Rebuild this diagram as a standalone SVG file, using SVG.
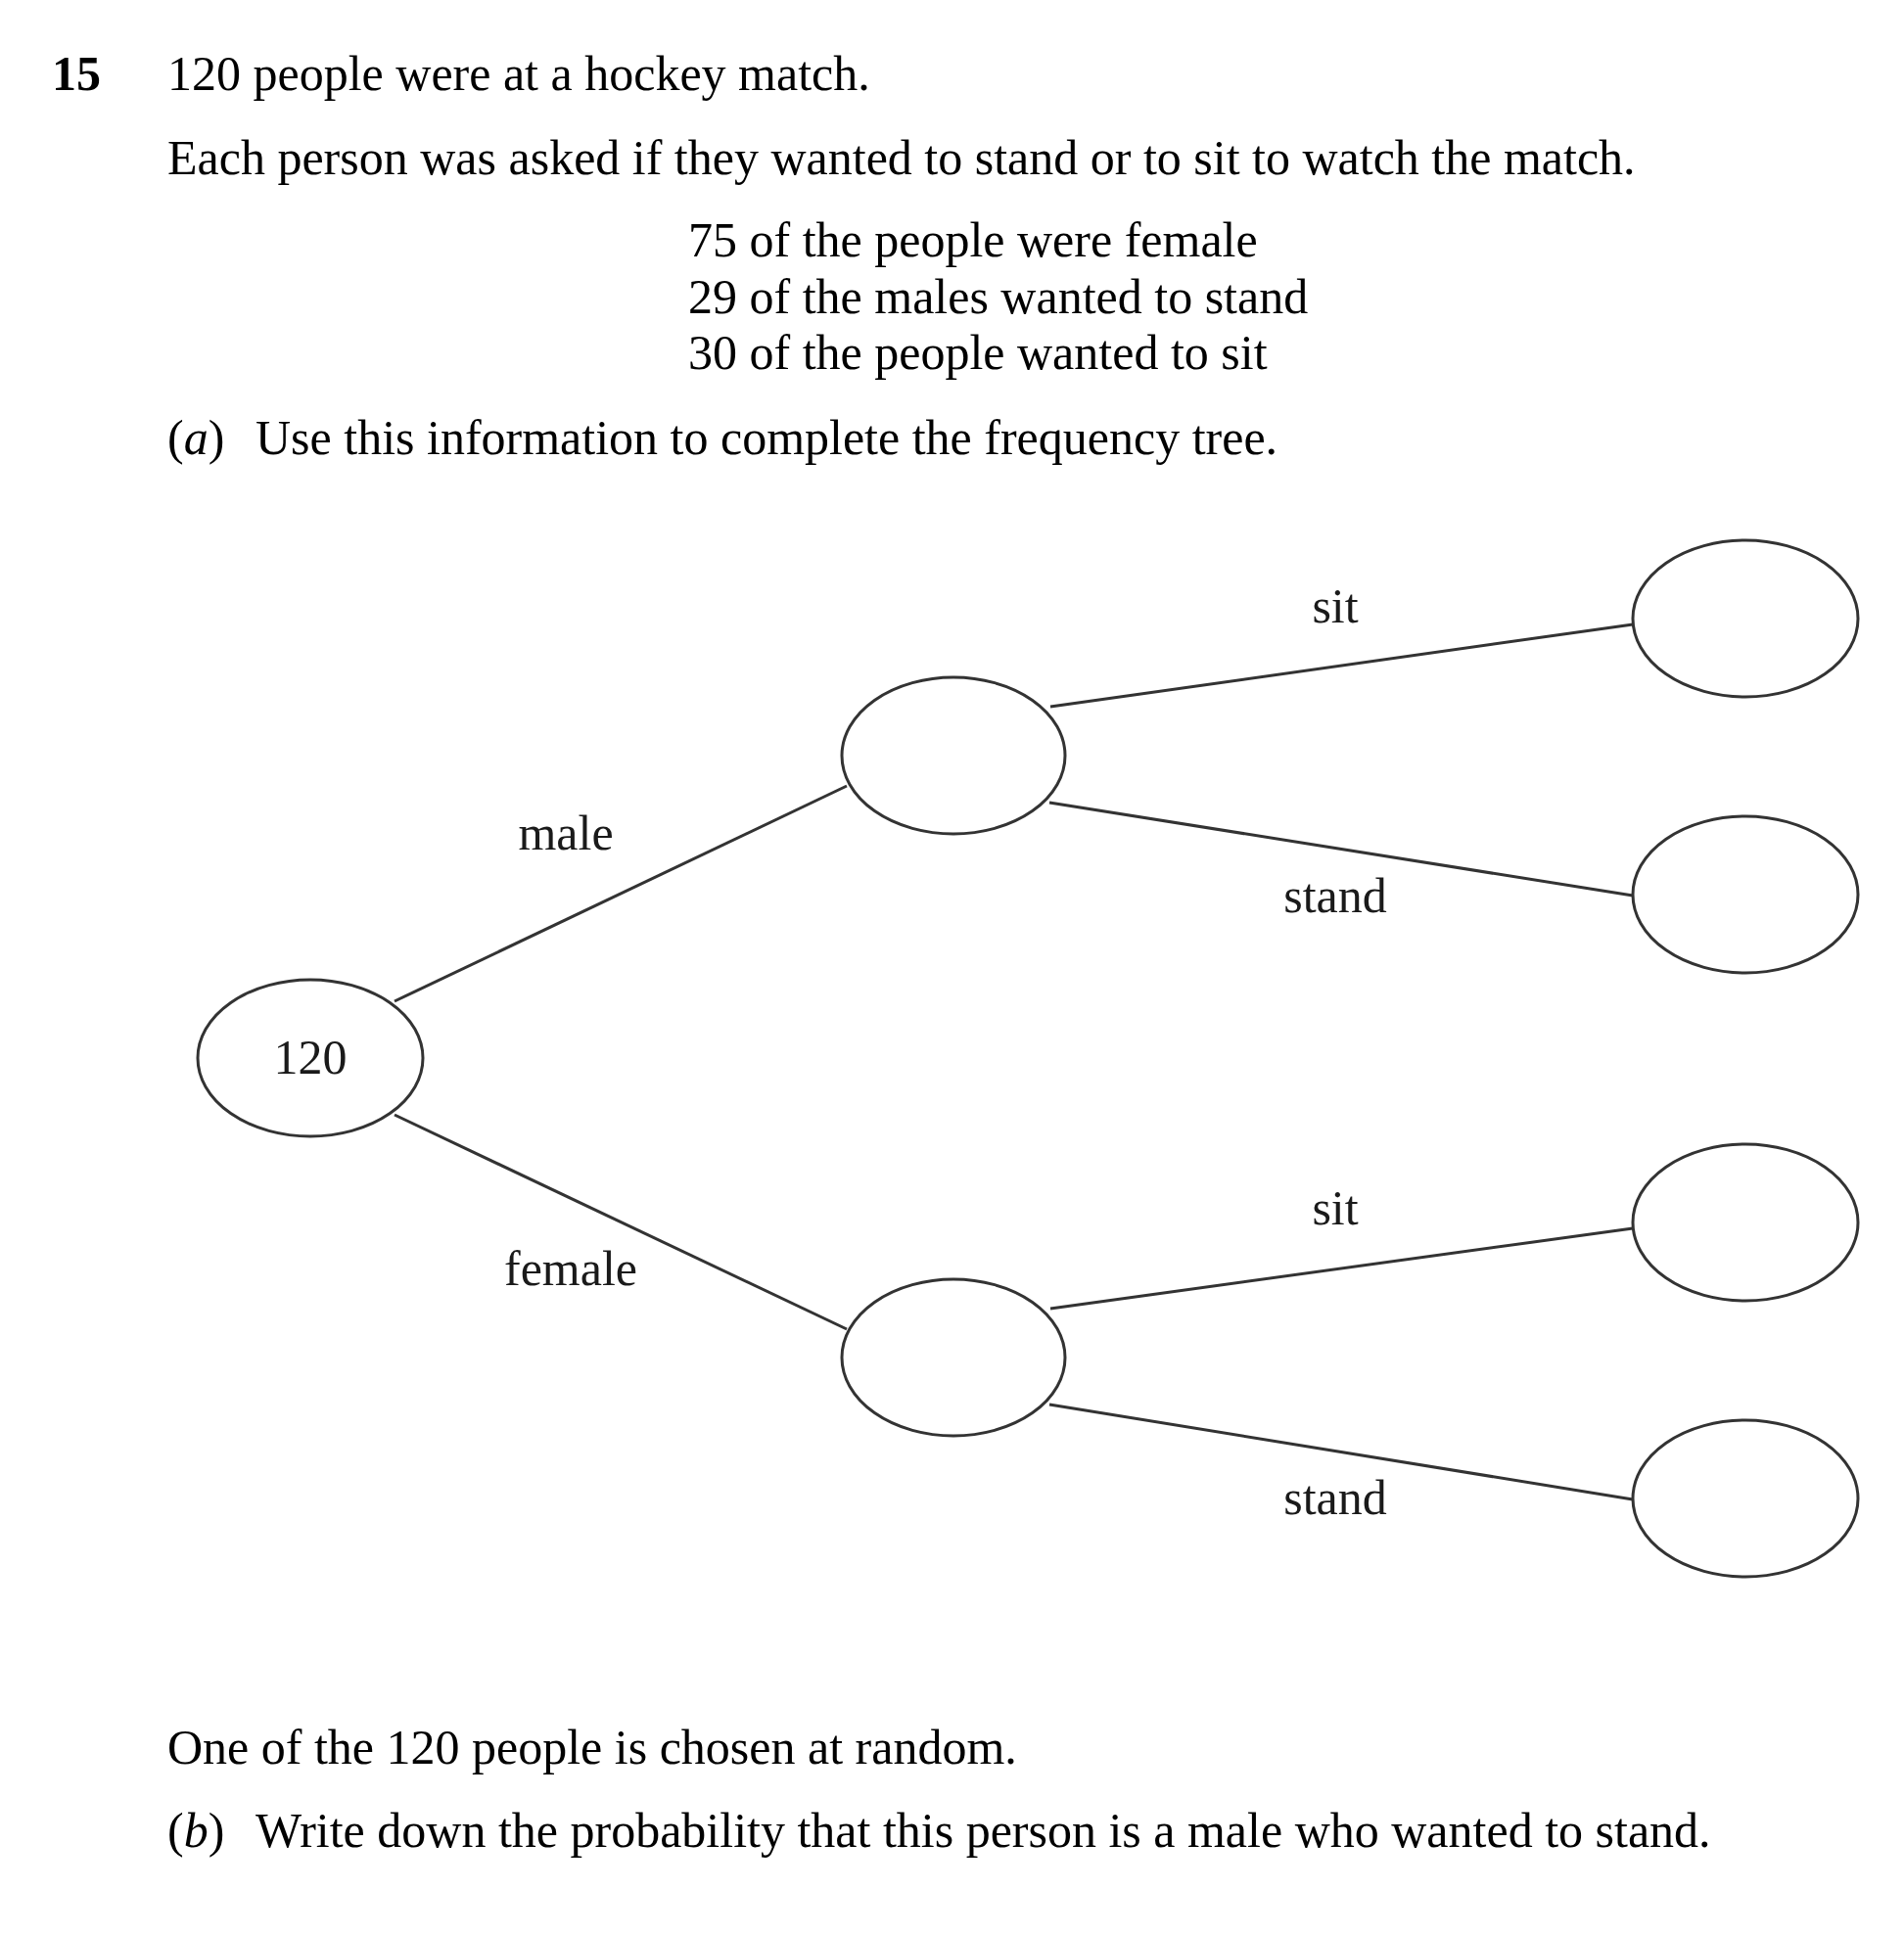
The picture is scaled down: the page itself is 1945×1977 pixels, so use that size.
<svg xmlns="http://www.w3.org/2000/svg" width="1945" height="1977" viewBox="0 0 1945 1977">
<style>
  .t { font-family: "Liberation Serif", "Times New Roman", serif; font-size: 50px; fill: #000; }
  .lbl { font-family: "Liberation Serif", "Times New Roman", serif; font-size: 50px; fill: #1a1a1a; text-anchor: middle; }
  .node { fill: #fff; stroke: #333; stroke-width: 3; }
  .edge { stroke: #333; stroke-width: 3; fill: none; }
</style>
<rect width="1945" height="1977" fill="#fff"/>
<g id="question-text">
  <text class="t" x="53" y="92" font-weight="bold">15</text>
  <text class="t" x="171" y="92">120 people were at a hockey match.</text>
  <text class="t" x="171" y="178">Each person was asked if they wanted to stand or to sit to watch the match.</text>
  <text class="t" x="703" y="262">75 of the people were female</text>
  <text class="t" x="703" y="320">29 of the males wanted to stand</text>
  <text class="t" x="703" y="377">30 of the people wanted to sit</text>
  <text class="t" x="171" y="464">(<tspan font-style="italic">a</tspan>)</text>
  <text class="t" x="261" y="464">Use this information to complete the frequency tree.</text>
  <text class="t" x="171" y="1802">One of the 120 people is chosen at random.</text>
  <text class="t" x="171" y="1887">(<tspan font-style="italic">b</tspan>)</text>
  <text class="t" x="261" y="1887">Write down the probability that this person is a male who wanted to stand.</text>
</g>
<g id="connectors">
  <line class="edge" x1="403" y1="1023" x2="865" y2="803"/>
  <line class="edge" x1="403" y1="1139" x2="865" y2="1358"/>
  <line class="edge" x1="1073" y1="722" x2="1668" y2="638"/>
  <line class="edge" x1="1072" y1="820" x2="1668" y2="915"/>
  <line class="edge" x1="1073" y1="1337" x2="1668" y2="1255"/>
  <line class="edge" x1="1072" y1="1435" x2="1668" y2="1532"/>
  <text class="lbl" x="578" y="868">male</text>
  <text class="lbl" x="583" y="1313">female</text>
  <text class="lbl" x="1364" y="636">sit</text>
  <text class="lbl" x="1364" y="932">stand</text>
  <text class="lbl" x="1364" y="1251">sit</text>
  <text class="lbl" x="1364" y="1547">stand</text>
</g>
<g id="node-root">
  <ellipse class="node" cx="317" cy="1081" rx="115" ry="80"/>
  <text class="lbl" x="317" y="1097">120</text>
</g>
<g id="node-male">
  <ellipse class="node" cx="974" cy="772" rx="114" ry="80"/>
</g>
<g id="node-female">
  <ellipse class="node" cx="974" cy="1387" rx="114" ry="80"/>
</g>
<g id="node-male-sit">
  <ellipse class="node" cx="1783" cy="632" rx="115" ry="80"/>
</g>
<g id="node-male-stand">
  <ellipse class="node" cx="1783" cy="914" rx="115" ry="80"/>
</g>
<g id="node-female-sit">
  <ellipse class="node" cx="1783" cy="1249" rx="115" ry="80"/>
</g>
<g id="node-female-stand">
  <ellipse class="node" cx="1783" cy="1531" rx="115" ry="80"/>
</g>
</svg>
